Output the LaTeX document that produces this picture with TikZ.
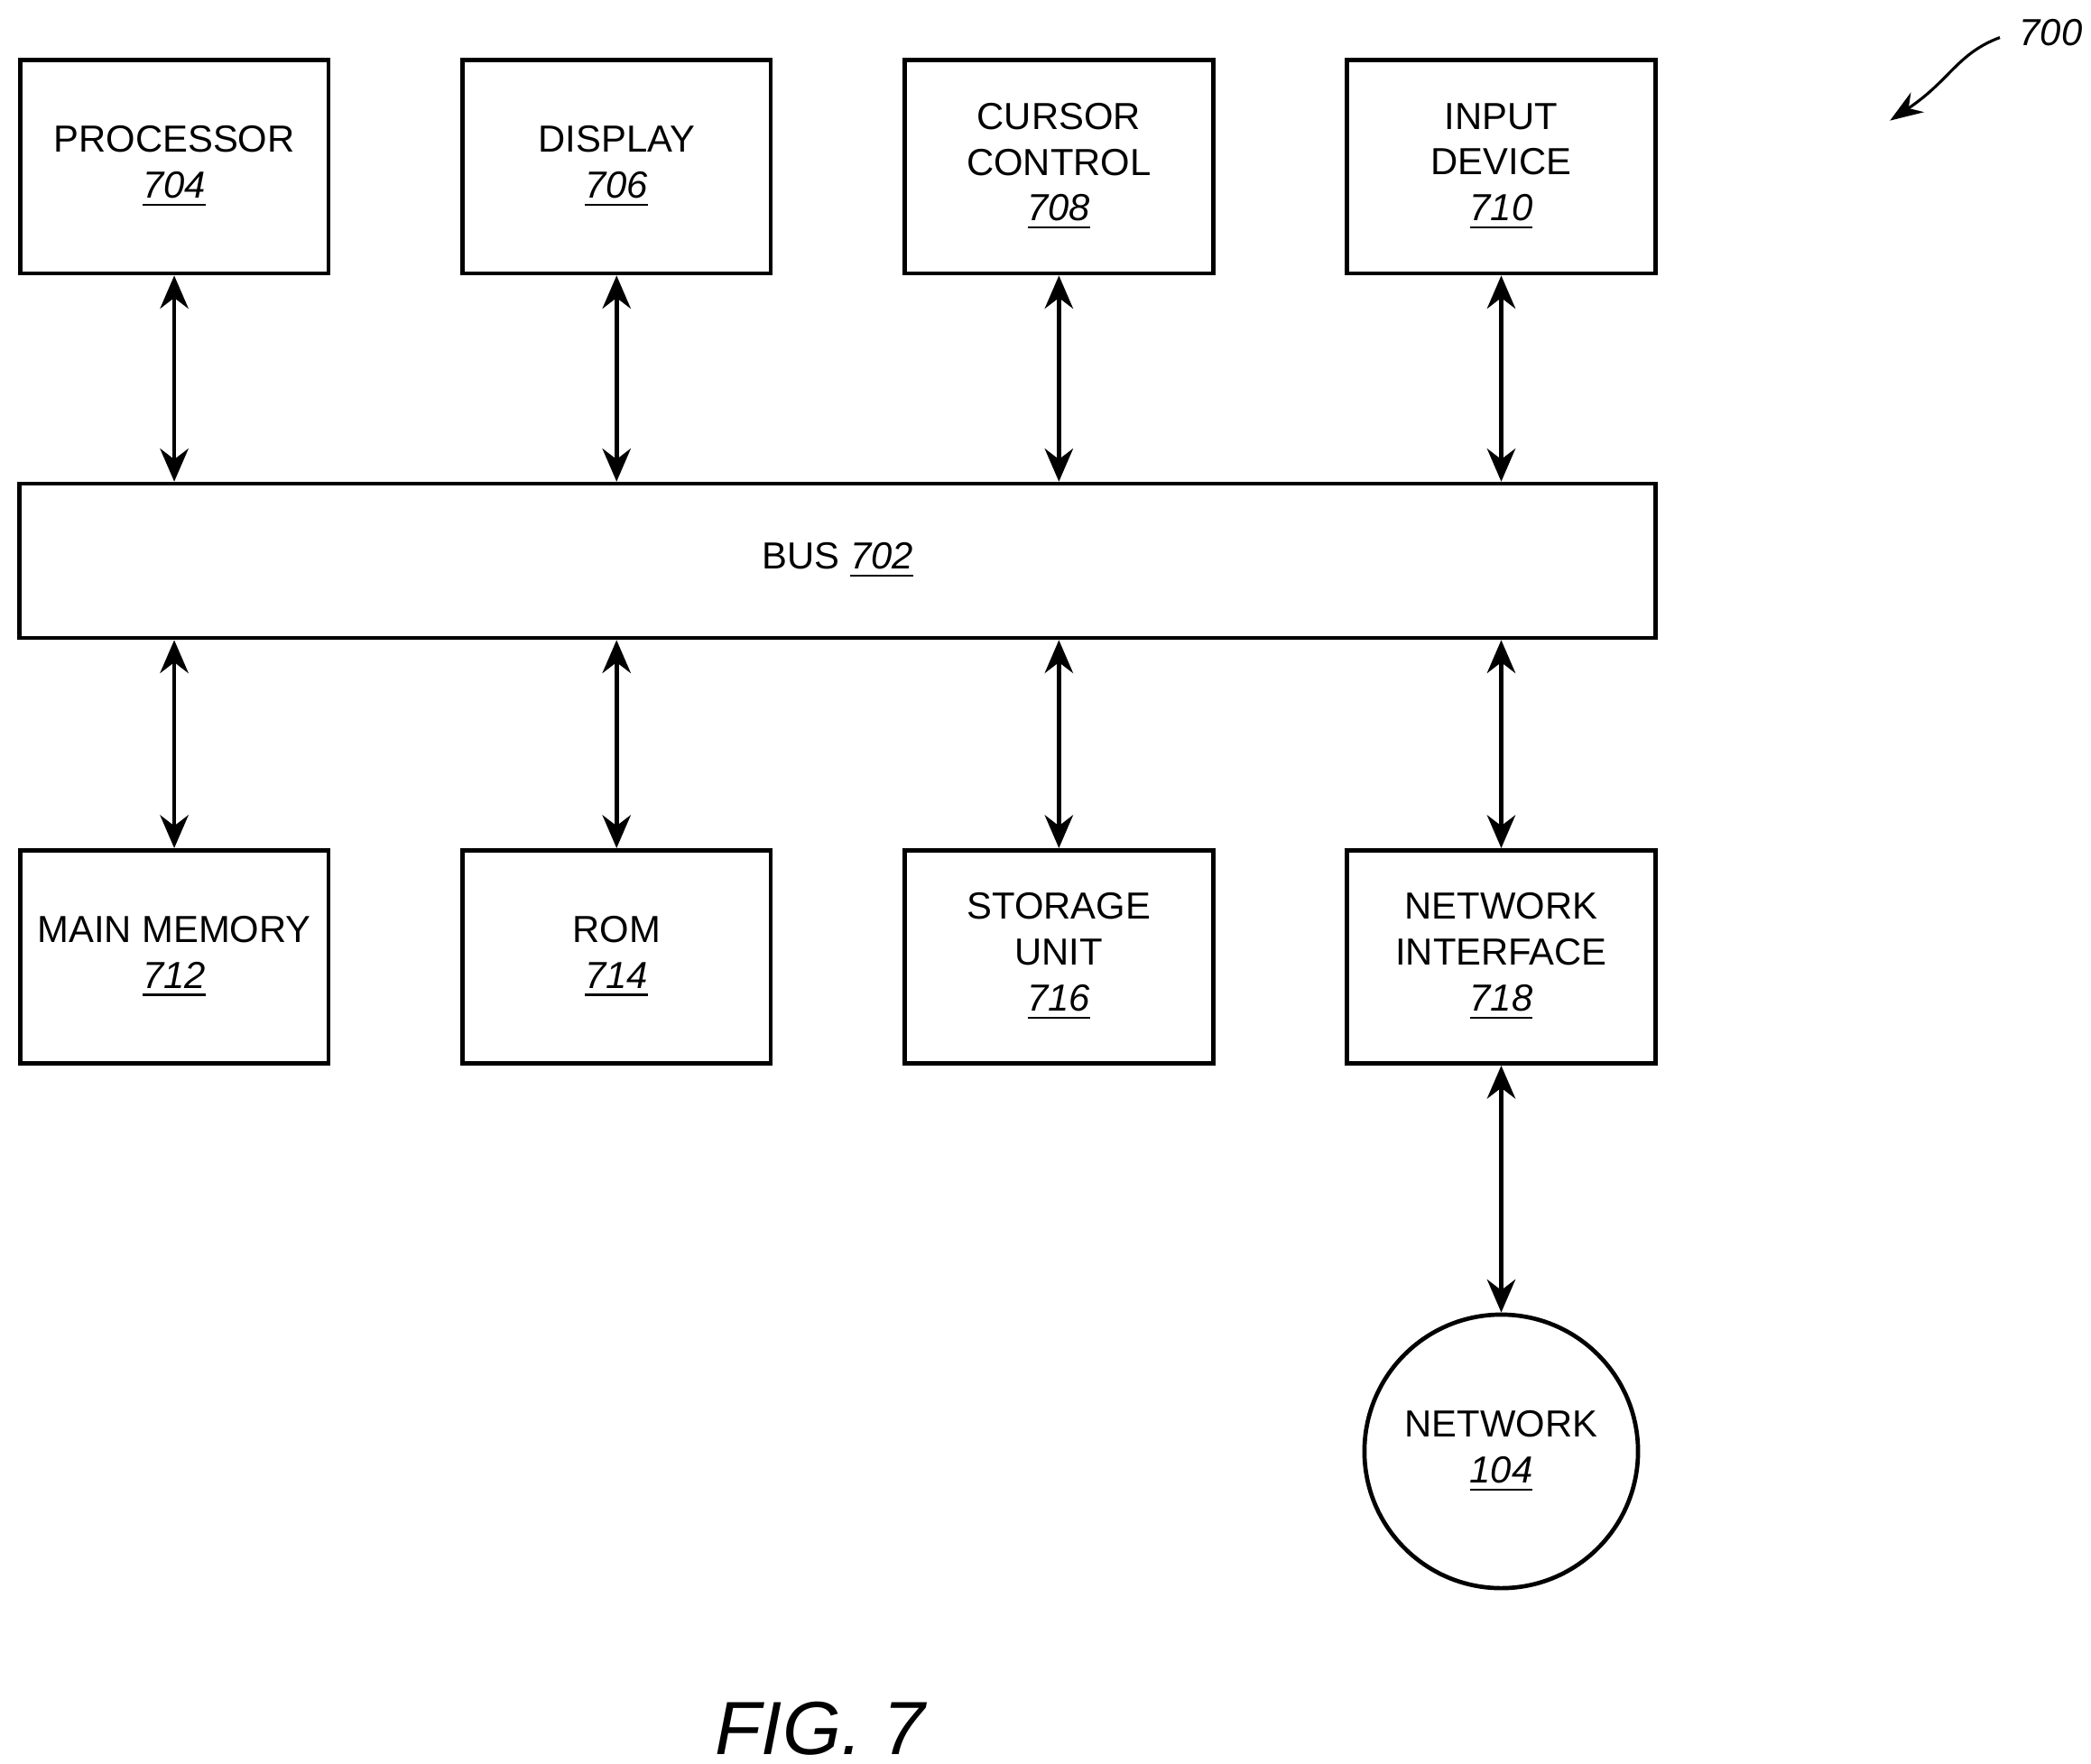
\documentclass[tikz,border=0pt]{standalone}
\usepackage{fontspec}
\setmainfont{Liberation Sans}
\usetikzlibrary{arrows.meta}
\begin{document}
\begin{tikzpicture}[x=0.01cm,y=-0.01cm,
 box/.style={draw,line width=0.9pt,minimum width=2.3cm,minimum height=1.59cm,align=center,font=\fontsize{8}{9.7}\selectfont,inner sep=0pt},
 arr/.style={{Stealth[length=7pt,width=6pt]}-{Stealth[length=7pt,width=6pt]},line width=0.9pt}]
\useasboundingbox (0,0) rectangle (1560,1316);
\newcommand\num[1]{\underline{\textit{#1}}}
\node[box] (p) at (130,124.5) {PROCESSOR\\\num{704}};
\node[box] (d) at (460,124.5) {DISPLAY\\\num{706}};
\node[box] (c) at (790,124.5) {CURSOR\\CONTROL\\\num{708}};
\node[box] (i) at (1120,124.5) {INPUT\\DEVICE\\\num{710}};
\node[box,minimum width=12.2cm,minimum height=1.15cm] (bus) at (625,418.5) {BUS \num{702}};
\node[box] (m) at (130,714) {MAIN MEMORY\\\num{712}};
\node[box] (r) at (460,714) {ROM\\\num{714}};
\node[box] (s) at (790,714) {STORAGE\\UNIT\\\num{716}};
\node[box] (n) at (1120,714) {NETWORK\\INTERFACE\\\num{718}};
\node[box,circle,minimum size=2.04cm] (net) at (1120,1083) {NETWORK\\\num{104}};
\foreach \a in {p,d,c,i} \draw[arr] (\a.south) -- (\a.south |- bus.north);
\foreach \a in {m,r,s,n} \draw[arr] (\a.north) -- (\a.north |- bus.south);
\draw[arr] (n.south) -- (net.north);
\node[font=\fontsize{16}{16}\selectfont\itshape] (fig) at (612,1290) {FIG. 7};
\node[font=\fontsize{8}{8}\selectfont\itshape] (lbl) at (1530,24) {700};
\coordinate (ae) at (1410,90);
\draw[line width=0.6pt,-{Stealth[length=7pt,width=5pt]}] (1492,28) .. controls (1460,40) and (1455,60) .. (ae);
\end{tikzpicture}
\end{document}
